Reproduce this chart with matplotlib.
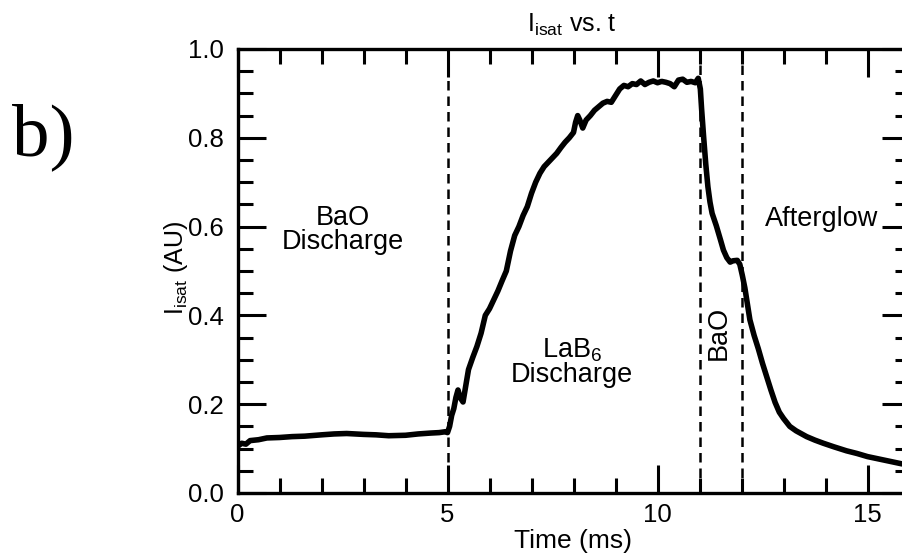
import matplotlib
matplotlib.use("Agg")
import matplotlib.pyplot as plt
from matplotlib.ticker import MultipleLocator

plt.rcParams['font.family'] = ['Liberation Sans', 'DejaVu Sans']
plt.rcParams['mathtext.fontset'] = 'custom'
plt.rcParams['mathtext.rm'] = 'Liberation Sans'
plt.rcParams['mathtext.it'] = 'Liberation Sans:italic'

# ---- data ----
time_ms = [0.0, 0.1, 0.2, 0.3, 0.5, 0.7, 1.0, 1.3, 1.6, 2.0, 2.3, 2.6, 3.0, 3.3, 3.6,
           4.0, 4.3, 4.6, 4.8, 4.95,
           5.0, 5.05, 5.1, 5.15, 5.2, 5.25, 5.3, 5.37, 5.45, 5.5, 5.6, 5.7, 5.8, 5.9,
           6.0, 6.1, 6.2, 6.3, 6.4, 6.5, 6.6, 6.7, 6.8, 6.9, 7.0, 7.1, 7.2, 7.3, 7.4,
           7.5, 7.6, 7.7, 7.8, 7.9, 8.0, 8.05, 8.1, 8.15, 8.22, 8.3, 8.4, 8.5, 8.6,
           8.7, 8.8, 8.9, 9.0, 9.1, 9.2, 9.3, 9.4, 9.5, 9.6, 9.7, 9.8, 9.9, 10.0,
           10.1, 10.2, 10.3, 10.4, 10.5, 10.6, 10.7, 10.8, 10.9, 10.97,
           11.02, 11.05, 11.1, 11.15, 11.2, 11.25, 11.3, 11.4, 11.5, 11.57, 11.65,
           11.73, 11.8, 11.9, 11.96, 12.02, 12.08, 12.15, 12.2, 12.3, 12.4, 12.5,
           12.6, 12.7, 12.8, 12.9, 13.0, 13.15, 13.3, 13.55, 13.75, 13.95, 14.2,
           14.5, 14.75, 15.0, 15.25, 15.55, 15.8, 16.0]
isat = [0.105, 0.112, 0.110, 0.118, 0.120, 0.124, 0.125, 0.127, 0.128, 0.131, 0.133,
        0.134, 0.132, 0.131, 0.129, 0.130, 0.133, 0.135, 0.136, 0.138,
        0.136, 0.150, 0.175, 0.190, 0.215, 0.232, 0.215, 0.205, 0.250, 0.278, 0.305,
        0.330, 0.360, 0.400, 0.415, 0.435, 0.455, 0.478, 0.500, 0.545, 0.580, 0.600,
        0.625, 0.645, 0.675, 0.700, 0.720, 0.735, 0.745, 0.755, 0.765, 0.778, 0.790,
        0.800, 0.812, 0.835, 0.850, 0.840, 0.822, 0.840, 0.850, 0.862, 0.870, 0.878,
        0.882, 0.880, 0.895, 0.910, 0.918, 0.915, 0.922, 0.920, 0.928, 0.920, 0.925,
        0.928, 0.924, 0.927, 0.925, 0.922, 0.915, 0.930, 0.932, 0.925, 0.927, 0.924,
        0.934,
        0.910, 0.865, 0.800, 0.740, 0.690, 0.655, 0.630, 0.602, 0.570, 0.547, 0.530,
        0.520, 0.523, 0.524, 0.515, 0.490, 0.462, 0.420, 0.390, 0.355, 0.325, 0.292,
        0.262, 0.232, 0.204, 0.182, 0.168, 0.150, 0.140, 0.127, 0.119, 0.112, 0.104,
        0.095, 0.089, 0.082, 0.077, 0.071, 0.066, 0.063]
phase_bounds = [5, 11, 12]

W, H = 902, 557
fig = plt.figure(figsize=(W / 100, H / 100), dpi=100)
ax = fig.add_axes([237.5 / W, 64 / H, 672 / W, 444 / H])

ax.plot(time_ms, isat, color='black', lw=4.0, solid_joinstyle='round')
for xb in phase_bounds:
    ax.axvline(xb, color='black', lw=1.8, linestyle=(0, (3.8, 2.4)))

ax.set_xlim(0, 16)
ax.set_ylim(0, 1.0)
ax.xaxis.set_major_locator(MultipleLocator(5))
ax.xaxis.set_minor_locator(MultipleLocator(1))
ax.yaxis.set_major_locator(MultipleLocator(0.2))
ax.yaxis.set_minor_locator(MultipleLocator(0.05))
ax.xaxis.set_major_formatter(plt.FuncFormatter(lambda v, p: f"{v:.0f}"))
ax.yaxis.set_major_formatter(plt.FuncFormatter(lambda v, p: f"{v:.1f}"))
ax.tick_params(which='both', direction='in', top=True, right=True, width=2.2,
               labelsize=18.5)
ax.tick_params(which='major', length=20)
ax.tick_params(which='minor', length=10.5)
ax.tick_params(axis='y', pad=10)
ax.tick_params(axis='x', pad=7)
for s in ax.spines.values():
    s.set_linewidth(2.4)

# labels
fig.text(572 / W, 1 - 32 / H, r"I$_{\mathrm{isat}}$ vs. t", ha='center', va='baseline',
         fontsize=18)
fig.text(573 / W, 1 - 548 / H, "Time (ms)", ha='center', va='baseline', fontsize=19)
fig.text(176 / W, 1 - 268 / H, r"I$_{\mathrm{isat}}$ (AU)", ha='center', va='center',
         rotation=90, fontsize=18)

# annotations
ax.text(2.51, 0.604, "BaO", ha='center', va='baseline', fontsize=19.5)
ax.text(2.51, 0.55, "Discharge", ha='center', va='baseline', fontsize=19.5)
ax.text(7.96, 0.305, r"LaB$_{6}$", ha='center', va='baseline', fontsize=19.5)
ax.text(7.96, 0.250, "Discharge", ha='center', va='baseline', fontsize=19.5)
ax.text(11.46, 0.361, "BaO", ha='center', va='center', rotation=90, fontsize=19.5)
ax.text(12.56, 0.602, "Afterglow", ha='left', va='baseline', fontsize=19.5)

fig.text(12 / W, 1 - 155 / H, "b)", ha='left', va='baseline', fontsize=54,
         family=['Liberation Serif', 'DejaVu Serif'])

fig.savefig("out.png", dpi=100)
